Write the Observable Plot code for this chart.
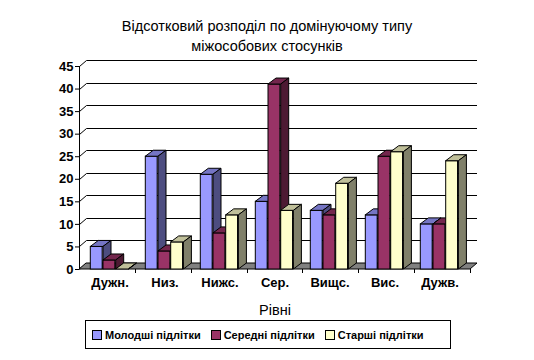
<!DOCTYPE html>
<html>
<head>
<meta charset="utf-8">
<script src="https://cdn.jsdelivr.net/npm/d3@7"></script>
<script src="https://cdn.jsdelivr.net/npm/@observablehq/plot@0.6"></script>
<style>
  html, body { margin: 0; padding: 0; background: #fff; }
  #wrap { position: relative; width: 534px; height: 360px; font-family: "Liberation Sans", Arial, sans-serif; }
  #chart { position: absolute; left: 0; top: 0; }
  #title { position: absolute; left: 0; top: 16px; width: 534px; text-align: center; font-size: 14.5px; line-height: 20px; color: #000; }
  #legend { position: absolute; left: 85px; top: 320px; width: 366px; height: 29px; border: 1px solid #000; box-sizing: border-box;
            display: flex; align-items: center; font-size: 11px; font-weight: bold; }
  .item { display: flex; align-items: center; margin-left: 6px; margin-right: 4px; }
  .sw { width: 8px; height: 8px; border: 1px solid #000; margin-right: 3px; }
</style>
</head>
<body>
<div id="wrap">
  <div id="chart"></div>
  <div id="title">Відсотковий розподіл по домінуючому типу<br>міжособових стосунків</div>
  <div id="legend"></div>
</div>
<script>
const categories = ["Дужн.", "Низ.", "Нижс.", "Сер.", "Вищс.", "Вис.", "Дужв."];
const young  = [5, 25, 21, 15, 13, 12, 10];
const middle = [2, 4, 8, 41, 12, 25, 10];
const senior = [0, 6, 12, 13, 19, 26, 24];
const seriesNames = ["Молодші підлітки", "Середні підлітки", "Старші підлітки"];
const yTicks = [0, 5, 10, 15, 20, 25, 30, 35, 40, 45];
const xLabel = "Рівні";

const front = ["#9999FF", "#993366", "#FFFFCC"];
const top_  = ["#7575C4", "#73264D", "#C0C09A"];
const side  = ["#4D4D80", "#4D1A33", "#80806A"];

const W = 534, H = 360, mL = 79, mR = 64, mT = 66, mB = 91;
const wallDx = 7, wallDy = 6;     // back wall depth offset
const barDx = 8, barDy = 6;       // bar depth offset
const inset0 = 8.3, barW = 12.7;

function poly(g, pts, fill) {
  g.append("polygon")
    .attr("points", pts.map(p => p.join(",")).join(" "))
    .attr("fill", fill).attr("stroke", "#000").attr("stroke-width", 1).attr("stroke-linejoin", "round");
}

// back wall gridlines + axis line + floor
function wall(index, scales, values, dims) {
  const g = d3.create("svg:g");
  const x0 = mL, x1 = dims.width - mR;
  for (const t of yTicks) {
    const y = Math.round(scales.y(t)) + 0.5;
    g.append("polyline")
      .attr("points", `${x0 + 0.5},${y} ${x0 + wallDx + 0.5},${y - wallDy} ${x1 + wallDx},${y - wallDy}`)
      .attr("fill", "none").attr("stroke", "#000").attr("stroke-width", 1);
  }
  const y0 = scales.y(0);
  // floor
  poly(g, [[x0, y0], [x0 + wallDx, y0 - wallDy], [x1 + wallDx, y0 - wallDy], [x1, y0]], "#808080");
  // front floor tick marks at category boundaries
  const bw = (dims.width - mL - mR) / categories.length;
  for (let i = 1; i <= categories.length; i++) {
    const x = Math.round(x0 + i * bw) + 0.5;
    g.append("line").attr("x1", x).attr("x2", x).attr("y1", y0).attr("y2", y0 + 4).attr("stroke", "#000");
  }
  // vertical axis line
  g.append("line").attr("x1", x0 + 0.5).attr("x2", x0 + 0.5).attr("y1", scales.y(45)).attr("y2", y0).attr("stroke", "#000");
  return g.node();
}

function bars(vals, s) {
  const data = categories.map((c, i) => ({cat: c, value: vals[i]}));
  const bw = (W - mL - mR) / categories.length;
  const inL = inset0 + s * barW;
  const inR = bw - inL - barW;
  return Plot.barY(data, {
    x: "cat", y1: 0, y2: "value",
    fill: front[s], stroke: "#000", strokeWidth: 1,
    insetLeft: inL, insetRight: inR,
    render(index, scales, values, dimensions, context, next) {
      const g = d3.select(next(index, scales, values, dimensions, context));
      const extra = g.append("g");
      for (const i of index) {
        const xa = values.x[i] + inL, xb = xa + barW;
        const yt = Math.min(values.y1[i], values.y2[i]);
        const yb = Math.max(values.y1[i], values.y2[i]);
        poly(extra, [[xa, yt], [xa + barDx, yt - barDy], [xb + barDx, yt - barDy], [xb, yt]], top_[s]);
        poly(extra, [[xb, yt], [xb + barDx, yt - barDy], [xb + barDx, yb - barDy], [xb, yb]], side[s]);
      }
      return g.node();
    }
  });
}

const chart = Plot.plot({
  width: W, height: H,
  marginLeft: mL, marginRight: mR, marginTop: mT, marginBottom: mB,
  style: {fontFamily: "'Liberation Sans', Arial, sans-serif", background: "white", color: "#000"},
  x: {type: "band", domain: categories, padding: 0, axis: null},
  y: {domain: [0, 45], axis: null},
  marks: [
    wall,
    bars(young, 0),
    bars(middle, 1),
    bars(senior, 2),
    Plot.axisY(yTicks, {tickSize: 4, tickPadding: 2, fontSize: 13, fontWeight: "bold", label: null, stroke: "#000"}),
    Plot.text(categories, {x: d => d, frameAnchor: "bottom", dy: 17, fontSize: 13, fontWeight: "bold", fill: "#000"}),
    Plot.text([xLabel], {frameAnchor: "bottom", dy: 45, fontSize: 14.5, fill: "#000"})
  ]
});
document.getElementById("chart").appendChild(chart);

const legend = document.getElementById("legend");
seriesNames.forEach((n, i) => {
  const it = document.createElement("div");
  it.className = "item";
  it.innerHTML = `<span class="sw" style="background:${front[i]}"></span><span>${n}</span>`;
  legend.appendChild(it);
});
</script>
</body>
</html>
